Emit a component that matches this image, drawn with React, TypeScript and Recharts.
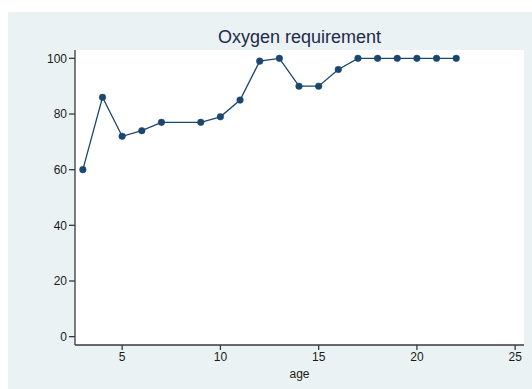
import React from 'react';
import { LineChart, Line, XAxis, YAxis, CartesianGrid, Label } from 'recharts';

const ages = [3, 4, 5, 6, 7, 9, 10, 11, 12, 13, 14, 15, 16, 17, 18, 19, 20, 21, 22];
const oxygen = [60, 86, 72, 74, 77, 77, 79, 85, 99, 100, 90, 90, 96, 100, 100, 100, 100, 100, 100];
const xTicks = [5, 10, 15, 20, 25];
const yTicks = [0, 20, 40, 60, 80, 100];

const data = ages.map((age, i) => ({ age, oxygen: oxygen[i] }));

const font = 'Arial, "Liberation Sans", Helvetica, sans-serif';
const axisColor = '#3a3a3a';

export default function App() {
  return (
    <div
      style={{
        position: 'absolute',
        left: 8,
        top: 12,
        width: 524,
        height: 377,
        background: '#eaf2f3',
        fontFamily: font,
      }}
    >
      <div
        style={{
          position: 'absolute',
          left: 67,
          width: 449,
          top: 15,
          textAlign: 'center',
          fontSize: 18,
          lineHeight: '21px',
          color: '#1e2a4a',
        }}
      >
        Oxygen requirement
      </div>
      <LineChart
        width={524}
        height={377}
        data={data}
        margin={{ top: 38, right: 8, bottom: 0, left: 0 }}
        style={{ position: 'absolute', left: 0, top: 0 }}
      >
        <rect x={67} y={38} width={449} height={295} fill="#ffffff" />
        <CartesianGrid vertical={false} stroke="#e8f0f3" strokeWidth={1.2} fill="#ffffff" />
        <XAxis
          dataKey="age"
          type="number"
          domain={[2.6, 25.45]}
          ticks={xTicks}
          allowDataOverflow
          height={44}
          tickSize={5}
          tickMargin={2}
          stroke={axisColor}
          strokeWidth={1.3}
          tick={{ fill: '#1a1a1a', fontSize: 12, fontFamily: font }}
        >
          <Label
            value="age"
            position="insideBottom"
            offset={11}
            style={{ fill: '#1a1a1a', fontSize: 12, fontFamily: font }}
          />
        </XAxis>
        <YAxis
          type="number"
          domain={[-3, 103]}
          ticks={yTicks}
          allowDataOverflow
          width={67}
          tickSize={6}
          tickMargin={2}
          stroke={axisColor}
          strokeWidth={1.3}
          tick={{ fill: '#1a1a1a', fontSize: 12, fontFamily: font }}
        />
        <Line
          type="linear"
          dataKey="oxygen"
          stroke="#1a476f"
          strokeWidth={1.3}
          dot={{ r: 3.3, fill: '#1a476f', stroke: '#1a476f', strokeWidth: 0.5 }}
          isAnimationActive={false}
        />
      </LineChart>
    </div>
  );
}
